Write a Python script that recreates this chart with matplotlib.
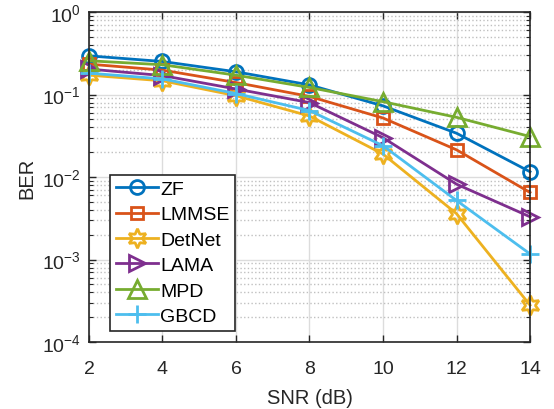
import matplotlib
matplotlib.use("Agg")
import matplotlib.pyplot as plt
from matplotlib.ticker import LogLocator, FixedLocator, NullFormatter

plt.rcParams['font.family'] = ['Liberation Sans', 'DejaVu Sans']
plt.rcParams['mathtext.fontset'] = 'custom'
plt.rcParams['mathtext.rm'] = 'Liberation Sans'
plt.rcParams['mathtext.it'] = 'Liberation Sans:italic'

snr = [2, 4, 6, 8, 10, 12, 14]
ber_zf = [0.295, 0.252, 0.189, 0.131, 0.073, 0.034, 0.0116]
ber_lmmse = [0.234, 0.198, 0.140, 0.095, 0.052, 0.0214, 0.0065]
ber_detnet = [0.172, 0.147, 0.097, 0.055, 0.019, 0.0036, 0.00028]
ber_lama = [0.204, 0.170, 0.117, 0.080, 0.030, 0.0082, 0.0033]
ber_mpd = [0.257, 0.230, 0.172, 0.122, 0.082, 0.053, 0.031]
ber_gbcd = [0.182, 0.155, 0.103, 0.064, 0.024, 0.0052, 0.00117]

labels = ['ZF', 'LMMSE', 'DetNet', 'LAMA', 'MPD', 'GBCD']
colors = ['#0072BD', '#D95319', '#EDB120', '#7E2F8E', '#77AC30', '#4DBEEE']
markers = ['o', 's', (6, 1, 0), '>', '^', '+']
msizes = [10, 8, 14, 12, 13, 13]
series = [ber_zf, ber_lmmse, ber_detnet, ber_lama, ber_mpd, ber_gbcd]

fig = plt.figure(figsize=(5.54, 4.10), dpi=100)
ax = fig.add_axes([0.1606, 0.1634, 0.7961, 0.8046])

for y, lab, c, m, ms in zip(series, labels, colors, markers, msizes):
    ax.semilogy(snr, y, color=c, marker=m, markersize=ms, markerfacecolor='none',
                markeredgewidth=2, linewidth=2, label=lab, clip_on=False, zorder=3)

ax.set_xlim(2, 14)
ax.set_ylim(1e-4, 1)
ax.set_xticks(snr)
ax.set_yticks([1e-4, 1e-3, 1e-2, 1e-1, 1])
ax.set_yticklabels([r'$\mathregular{10^{-4}}$', r'$\mathregular{10^{-3}}$',
                    r'$\mathregular{10^{-2}}$', r'$\mathregular{10^{-1}}$',
                    r'$\mathregular{10^{0}}$'])
ax.yaxis.set_minor_locator(LogLocator(base=10, subs=range(2, 10)))
ax.yaxis.set_minor_formatter(NullFormatter())
ax.xaxis.set_minor_locator(FixedLocator([]))

ax.grid(True, which='major', color='#dcdcdc', linestyle='-', linewidth=1.0)
ax.grid(True, which='minor', axis='y', color='#c0c0c0', linestyle=':', linewidth=1.0)
ax.set_axisbelow(True)

for s in ax.spines.values():
    s.set_color('#262626')
    s.set_linewidth(1.2)
    s.set_zorder(4)
ax.tick_params(which='both', direction='in', top=True, right=True, colors='#262626',
               labelsize=14, labelcolor='#262626')
ax.tick_params(which='major', length=5, width=1.0)
ax.tick_params(axis='x', which='major', pad=13)
ax.tick_params(axis='y', which='major', pad=6)
ax.tick_params(which='minor', length=3, width=0.8)

ax.set_xlabel('SNR (dB)', fontsize=14.5, color='#262626', labelpad=8)
ax.set_ylabel('BER', fontsize=14.5, color='#262626', labelpad=4)

leg = ax.legend(loc='lower left', bbox_to_anchor=(0.047, 0.034), fontsize=14,
                handlelength=2.2, handletextpad=0.1, labelspacing=0.4,
                borderpad=0.3, borderaxespad=0, fancybox=False, framealpha=1,
                edgecolor='#262626')
leg.get_frame().set_linewidth(1.2)
leg.set_zorder(5)

fig.savefig('out.png', dpi=100)
